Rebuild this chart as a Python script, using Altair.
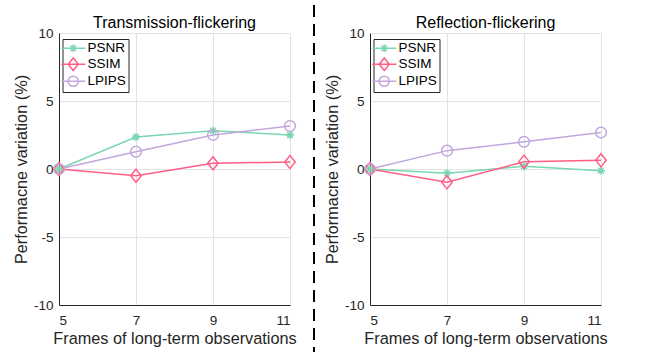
import altair as alt
import pandas as pd

# ---- data ----
frames = [5, 7, 9, 11]
metrics = ["PSNR", "SSIM", "LPIPS"]
trans_psnr = [0, 2.35, 2.82, 2.50]
trans_ssim = [0, -0.49, 0.42, 0.51]
trans_lpips = [0, 1.27, 2.50, 3.16]
refl_psnr = [0, -0.32, 0.20, -0.12]
refl_ssim = [0, -0.98, 0.54, 0.64]
refl_lpips = [0, 1.35, 2.00, 2.68]
y_ticks = [-10, -5, 0, 5, 10]
colors = ["#79d6b0", "#ff5f85", "#c2a7dd"]

FONT = "Liberation Sans"
TXT = "#262626"
MSIZE = 110.25  # marker unit = sqrt(size)/2 = 5.25 px

# marker shapes (unit space) for the plotted points
marker_paths = [
    "M-0.78,0H0.78M0,-0.78V0.78M-0.55,-0.55L0.55,0.55M-0.55,0.55L0.55,-0.55",
    "M0,-1.25L1,0L0,1.25L-1,0Z",
    "M1.02,0A1.02,1.02 0 1,1 -1.02,0A1.02,1.02 0 1,1 1.02,0Z",
]
# legend symbols: line through the marker
legend_paths = ["M-2.4,0H2.4" + p for p in marker_paths]

domain = metrics + [m + " marker" for m in metrics]
color_scale = alt.Scale(domain=domain, range=colors + colors)
shape_scale = alt.Scale(domain=domain, range=legend_paths + marker_paths)
stroke_scale = alt.Scale(domain=metrics, range=colors)

one_row = pd.DataFrame({"d": [0]})


def make_df(series):
    rows = []
    for m, vals in zip(metrics, series):
        for f, v in zip(frames, vals):
            rows.append({"frames": f, "value": v, "metric": m, "key": m + " marker"})
    return pd.DataFrame(rows)


def panel(series, title, is_left):
    df = make_df(series)
    base = alt.Chart(df)
    x = alt.X(
        "frames:Q",
        scale=alt.Scale(domain=[5, 11], nice=False, zero=False),
        axis=alt.Axis(values=frames, title="Frames of long-term observations",
                      labelExpr="'' + datum.value"),
    )
    y = alt.Y(
        "value:Q",
        scale=alt.Scale(domain=[-10, 10], nice=False),
        axis=alt.Axis(values=y_ticks, title="Performacne variation (%)",
                      labelExpr="'' + datum.value"),
    )
    leg = alt.Legend(
        values=metrics,
        title=None,
        orient="none",
        legendX=3.5,
        legendY=6,
        padding=2.5,
        rowPadding=-1,
        symbolOffset=1.5,
        labelOffset=7.6,
        labelFont=FONT,
        labelFontSize=13.5,
        labelColor="#000000",
        strokeColor=TXT,
        fillColor="white",
        symbolStrokeWidth=1.5,
        cornerRadius=0,
    )
    layers = []
    # white helper rule that pins the page edges (top-left / right)
    if is_left:
        layers.append(
            alt.Chart(one_row).mark_rule(color="white", strokeWidth=2).encode(
                x=alt.value(-58), x2=alt.value(230), y=alt.value(-32)
            )
        )
    else:
        layers.append(
            alt.Chart(one_row).mark_rule(color="white", strokeWidth=2).encode(
                x=alt.value(0), x2=alt.value(299), y=alt.value(-32)
            )
        )
    lines = base.mark_line(strokeWidth=1.5).encode(
        x=x, y=y, stroke=alt.Stroke("metric:N", scale=stroke_scale, legend=None)
    )
    points = base.mark_point(filled=False, size=MSIZE, strokeWidth=1.5, opacity=1).encode(
        x=x,
        y=y,
        color=alt.Color("key:N", scale=color_scale, legend=leg),
        shape=alt.Shape("key:N", scale=shape_scale, legend=leg),
    )
    layers += [lines, points]
    if is_left:
        layers.append(
            alt.Chart(one_row).mark_rule(
                color="black", strokeWidth=2, strokeDash=[12, 7]
            ).encode(x=alt.value(255), y=alt.value(-28), y2=alt.value(319))
        )
    return alt.layer(*layers).properties(
        width=231,
        height=272,
        title=alt.TitleParams(
            title, font=FONT, fontSize=16, fontWeight="normal", color="#000000",
            baseline="alphabetic", offset=-43.5, frame="group",
        ),
    )


left = panel([trans_psnr, trans_ssim, trans_lpips], "Transmission-flickering", True)
right = panel([refl_psnr, refl_ssim, refl_lpips], "Reflection-flickering", False)

chart = (
    alt.hconcat(left, right, spacing=80, bounds="flush")
    .resolve_scale(color="independent", shape="independent")
    .resolve_legend(color="independent", shape="independent")
    .properties(
        autosize=alt.AutoSizeParams(type="pad"),
        padding=0,
        background="white",
    )
    .configure_view(stroke=None)
    .configure_axis(
        labelFont=FONT,
        labelFontSize=13.5,
        labelColor=TXT,
        titleFont=FONT,
        titleFontSize=16.3,
        titleFontWeight="normal",
        titleColor=TXT,
        domainColor=TXT,
        domainWidth=1,
        gridColor="#e3e3e3",
        gridWidth=1,
        ticks=False,
    )
    .configure_axisX(labelPadding=8, titlePadding=4)
    .configure_axisY(labelPadding=6, titlePadding=3.5)
)

chart.save("out.html", embed_options={"renderer": "svg", "actions": False})
